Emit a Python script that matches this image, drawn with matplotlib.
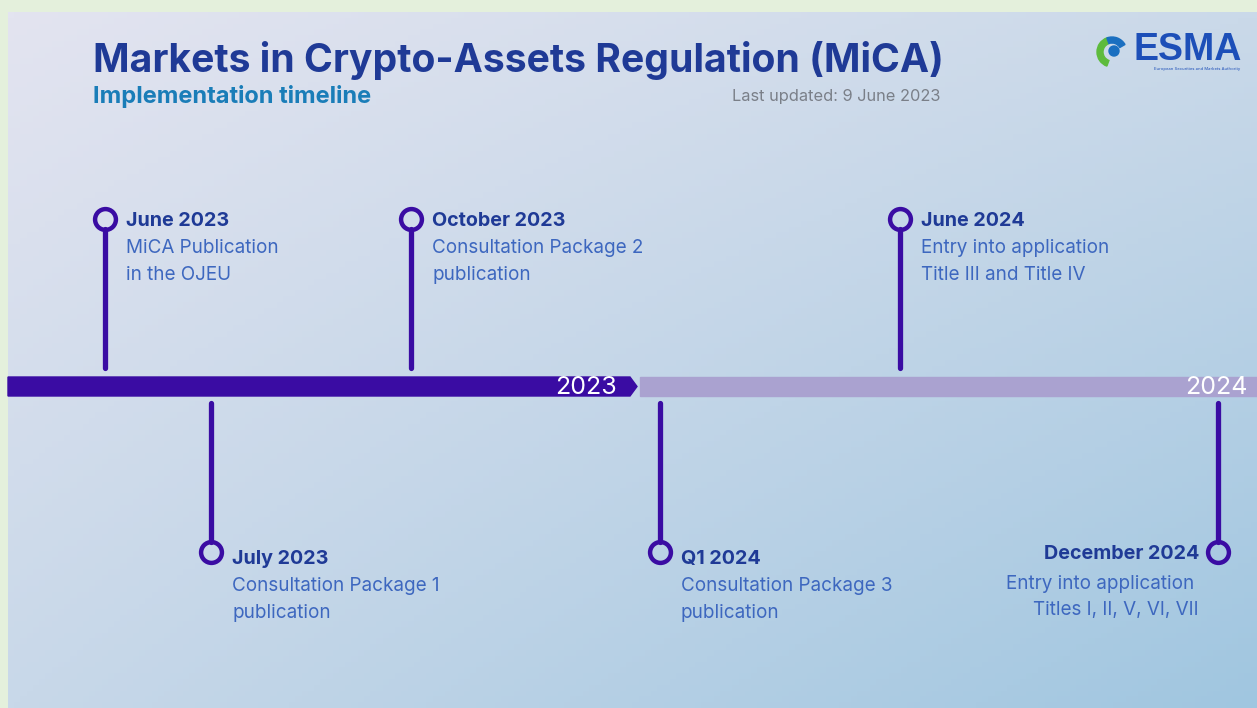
import numpy as np
import matplotlib
matplotlib.use("Agg")
import matplotlib.pyplot as plt
from matplotlib.patches import Polygon, Rectangle, Wedge, Circle

plt.rcParams['font.family'] = ['Inter', 'DejaVu Sans']

# timeline data
events = ["June 2023", "July 2023", "October 2023", "Q1 2024", "June 2024", "December 2024"]
descriptions = [
    ["MiCA Publication", "in the OJEU"],
    ["Consultation Package 1", "publication"],
    ["Consultation Package 2", "publication"],
    ["Consultation Package 3", "publication"],
    ["Entry into application", "Title III and Title IV"],
    ["Entry into application", "Titles I, II, V, VI, VII"],
]
sides = ["above", "below", "above", "below", "above", "below"]
event_pos = [105, 211, 411, 660, 900, 1218]
years = ["2023", "2024"]
year_end = [637, 1257]

W, H = 1257, 708
fig = plt.figure(figsize=(W / 100, H / 100), dpi=100)
fig.patch.set_facecolor("#e4f0dc")
ax = fig.add_axes([0, 0, 1, 1])
ax.set_xlim(0, W)
ax.set_ylim(H, 0)
ax.axis("off")

# background gradient panel
tl = np.array([227, 228, 240]) / 255
tr = np.array([202, 217, 233]) / 255
bl = np.array([200, 216, 233]) / 255
br = np.array([160, 198, 224]) / 255
u = np.linspace(0, 1, 200)[None, :, None]
v = np.linspace(0, 1, 120)[:, None, None]
grad = (1 - u) * (1 - v) * tl + u * (1 - v) * tr + (1 - u) * v * bl + u * v * br
ax.imshow(grad, extent=[8, W, H, 12], aspect="auto", zorder=0)

dark = "#3a0ca3"
light = "#aaa2d0"
title_c = "#1f3a96"
sub_c = "#1a7db8"
desc_c = "#3d67bf"

ax.text(93, 60, "Markets in Crypto-Assets Regulation (MiCA)", fontsize=28.2,
        fontweight="bold", color=title_c, va="center", ha="left")
ax.text(93, 97, "Implementation timeline", fontsize=17, fontweight="bold",
        color=sub_c, va="center", ha="left")
ax.text(940, 97, "Last updated: 9 June 2023", fontsize=11.8, color="#7a7f88",
        va="center", ha="right")

# ESMA logo (approximation)
ax.add_patch(Wedge((1112, 52), 15, 110, 250, width=6, color="#5dbb3c", zorder=3))
ax.add_patch(Wedge((1112, 52), 15, 250, 330, width=6, color="#1a6fc0", zorder=3))
ax.add_patch(Circle((1114, 51), 5, color="#1a6fc0", zorder=3))
ax.text(1242, 50, "ESMA", fontsize=27, fontweight="bold", color="#1d4fb8",
        ha="right", va="center", family=["Liberation Sans", "DejaVu Sans"])
ax.text(1240, 69, "European Securities and Markets Authority", fontsize=3,
        color="#1d4fb8", ha="right", va="center")

# timeline bar
bar_y, bar_h = 377, 19
ax.add_patch(Polygon([[8, bar_y], [year_end[0] - 7, bar_y], [year_end[0], bar_y + bar_h / 2],
                      [year_end[0] - 7, bar_y + bar_h], [8, bar_y + bar_h]],
                     closed=True, color=dark, zorder=2))
ax.add_patch(Rectangle((year_end[0] + 3, bar_y), year_end[1] - year_end[0] - 3, bar_h,
                       color=light, zorder=2))
ax.text(year_end[0] - 20, bar_y + bar_h / 2 + 1, years[0], color="white", fontsize=18,
        ha="right", va="center", zorder=3)
ax.text(year_end[1] - 9, bar_y + bar_h / 2 + 1, years[1], color="white", fontsize=18,
        ha="right", va="center", zorder=3)

for name, desc, side, x in zip(events, descriptions, sides, event_pos):
    if side == "above":
        cy, y0, y1 = 219, 229, 368
    else:
        cy, y0, y1 = 552, 403, 542
    ax.plot([x, x], [y0, y1], color=dark, lw=3.8, solid_capstyle="round", zorder=3)
    ax.plot([x], [cy], marker="o", ms=15, mfc="none", mec=dark, mew=3.2, zorder=4)
    if side == "below" and x > 1100:
        ax.text(x - 19, cy + 2, name, fontsize=14.2, fontweight="bold", color=title_c,
                ha="right", va="center")
        ax.text(x - 24, cy + 32, desc[0], fontsize=13.6, color=desc_c, ha="right", va="center")
        ax.text(x - 19, cy + 58, desc[1], fontsize=13.6, color=desc_c, ha="right", va="center")
    else:
        off = 5 if side == "below" else 0
        ax.text(x + 21, cy + off + 2, name, fontsize=14.2, fontweight="bold", color=title_c,
                ha="left", va="center")
        ax.text(x + 21, cy + off + 29, desc[0], fontsize=13.6, color=desc_c,
                ha="left", va="center")
        ax.text(x + 21, cy + off + 56, desc[1], fontsize=13.6, color=desc_c,
                ha="left", va="center")

fig.savefig("out.png", dpi=100)
